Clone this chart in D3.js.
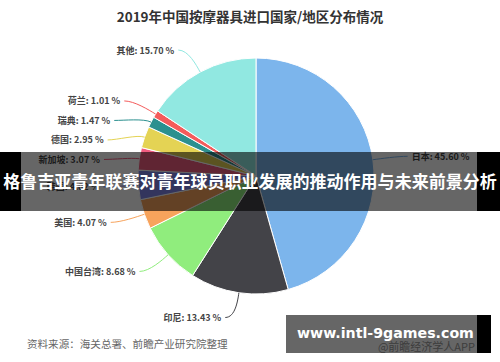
<!DOCTYPE html>
<html>
<head>
<meta charset="utf-8">
<script src="https://cdn.jsdelivr.net/npm/d3@7"></script>
<style>
  html, body { margin: 0; padding: 0; background: #fff; }
  svg { display: block; font-family: "Noto Sans CJK SC", "Noto Sans", sans-serif; }
</style>
</head>
<body>
<script>
// datos del grafico (porcentajes por pais / region)
var paises = ["日本", "印尼", "中国台湾", "美国", "韩国", "新加坡", "德国", "瑞典", "荷兰", "其他"]
var porcentajes = [45.60, 13.43, 8.68, 4.07, 4.02, 3.07, 2.95, 1.47, 1.01, 15.70]
var colores = ["#7cb5ec", "#434348", "#90ed7d", "#f7a35c", "#8085e9", "#f15c80", "#e4d354", "#2b908f", "#f45b5b", "#91e8e1"]

var titulo = "2019年中国按摩器具进口国家/地区分布情况"
var fuente = "资料来源：海关总署、前瞻产业研究院整理"
var banner = "格鲁吉亚青年联赛对青年球员职业发展的推动作用与未来前景分析"
var marca = "www.intl-9games.com"
var marcaApp = "@前瞻经济学人APP"

var W = 500, H = 362
var cx = 256, cy = 176, r = 118, rLabel = 143

var svg = d3.select("body").append("svg")
    .attr("width", W)
    .attr("height", H)

svg.append("rect").attr("width", W).attr("height", H).attr("fill", "#fff")

// ajusta el tamaño de fuente para ocupar un ancho dado
function ajustar(t, base, ancho) {
    var w = t.node().getComputedTextLength()
    t.style("font-size", (base * ancho / w) + "px")
}

// TITULO
svg.append("text")
    .attr("x", 250).attr("y", 22)
    .attr("text-anchor", "middle")
    .style("font-size", "13.5px")
    .style("font-weight", "bold")
    .attr("fill", "#333")
    .text(titulo)

// PIE
var escalaColor = d3.scaleOrdinal().domain(paises).range(colores)

var arcos = d3.pie().sort(null).value(d => d.v)(paises.map((p, i) => ({ name: p, v: porcentajes[i] })))
var total = d3.sum(porcentajes)

var arco = d3.arc().innerRadius(0).outerRadius(r)

var g = svg.append("g").attr("transform", "translate(" + cx + "," + cy + ")")

g.selectAll("path")
    .data(arcos)
    .enter()
    .append("path")
    .attr("d", arco)
    .attr("fill", d => escalaColor(d.data.name))
    .attr("stroke", "#fff")
    .attr("stroke-width", 1)

// posiciones de las etiquetas (estilo highcharts)
arcos.forEach(a => {
    a.mid = (a.startAngle + a.endAngle) / 2
    a.side = Math.sin(a.mid) >= 0 ? 1 : -1
    a.ly = cy - Math.cos(a.mid) * rLabel
})

var izq = arcos.filter(a => a.side < 0).sort((a, b) => a.ly - b.ly)
for (var i = 1; i < izq.length; i++) {
    if (izq[i].ly - izq[i - 1].ly < 19.5) izq[i].ly = izq[i - 1].ly + 19.5
}

arcos.forEach(a => {
    var dy = a.ly - cy
    a.lx = cx + a.side * Math.sqrt(Math.max(0, rLabel * rLabel - dy * dy))
    a.tx = a.lx + a.side * 14
})

// conectores
svg.append("g")
    .selectAll("path")
    .data(arcos)
    .enter()
    .append("path")
    .attr("fill", "none")
    .attr("stroke", d => escalaColor(d.data.name))
    .attr("stroke-width", 1)
    .attr("d", d => {
        var s = Math.sin(d.mid), c = Math.cos(d.mid)
        var ax = d.tx - d.side * 4
        var ex = cx + s * r, ey = cy - c * r
        var bx = cx + s * (r + 8), by = cy - c * (r + 8)
        return "M" + ax + "," + d.ly + " C" + d.lx + "," + d.ly + " " + bx + "," + by + " " + ex + "," + ey
    })

// etiquetas
svg.append("g")
    .selectAll("text")
    .data(arcos)
    .enter()
    .append("text")
    .attr("x", d => d.tx)
    .attr("y", d => d.ly + 3.5)
    .attr("text-anchor", d => d.side < 0 ? "end" : "start")
    .style("font-size", "9px")
    .style("font-weight", "bold")
    .attr("fill", "#444")
    .text(d => d.data.name + ": " + d3.format(".2f")(d.data.v / total * 100) + " %")

// FUENTE
var tf = svg.append("text")
    .attr("x", 27).attr("y", 348)
    .style("font-size", "10px")
    .attr("fill", "#666")
    .text(fuente)
ajustar(tf, 10, 201)

// BANDA SUPERPUESTA
svg.append("rect").attr("x", 0).attr("y", 152).attr("width", 21).attr("height", 59).attr("fill", "#000")
svg.append("rect").attr("x", 21).attr("y", 152).attr("width", 456).attr("height", 59).attr("fill", "rgba(0,0,0,0.6)")
svg.append("rect").attr("x", 477).attr("y", 152).attr("width", 23).attr("height", 59).attr("fill", "#000")
var tb = svg.append("text")
    .attr("x", 250).attr("y", 187.5)
    .attr("text-anchor", "middle")
    .style("font-size", "16.5px")
    .style("font-weight", "bold")
    .attr("fill", "#fff")
    .text(banner)
ajustar(tb, 16.5, 494)

// MARCA DE AGUA
svg.append("text")
    .attr("x", 475).attr("y", 351)
    .attr("text-anchor", "end")
    .style("font-size", "11px")
    .attr("fill", "#999")
    .text(marcaApp)
svg.append("rect").attr("x", 286).attr("y", 315).attr("width", 191).attr("height", 38).attr("fill", "rgba(0,0,0,0.6)")
svg.append("rect").attr("x", 477).attr("y", 315).attr("width", 14).attr("height", 38).attr("fill", "#000")
var tm = svg.append("text")
    .attr("x", 297).attr("y", 338)
    .style("font-family", "'DejaVu Sans', sans-serif")
    .style("font-size", "16px")
    .style("font-weight", "bold")
    .attr("fill", "#fff")
    .text(marca)
ajustar(tm, 16, 177)
</script>
</body>
</html>
